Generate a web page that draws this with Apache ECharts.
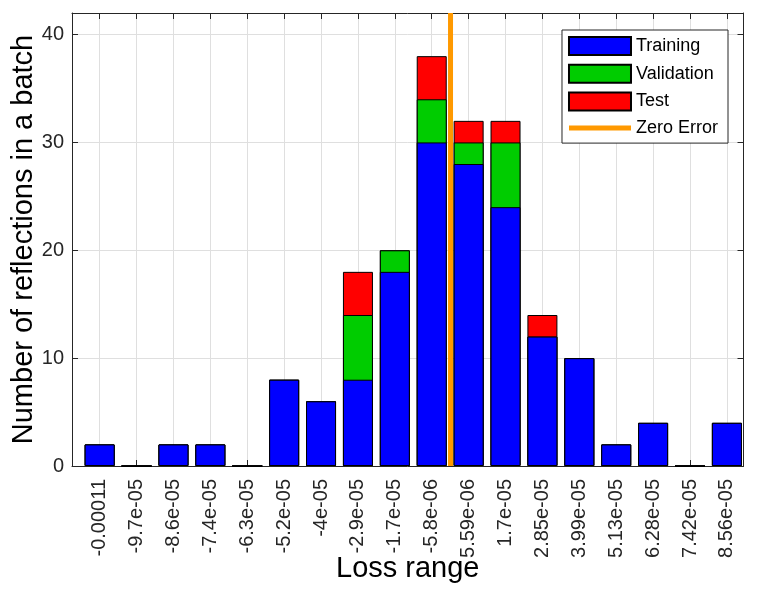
<!DOCTYPE html>
<html>
<head>
<meta charset="utf-8">
<script src="https://cdn.jsdelivr.net/npm/echarts@6/dist/echarts.min.js"></script>
<style>
  html, body { margin: 0; padding: 0; background: #fff; }
  #chart { width: 760px; height: 590px; }
</style>
</head>
<body>
<div id="chart"></div>
<script>
// bin labels as printed under the bars, and their numeric centers
const binLabels = ["-0.00011", "-9.7e-05", "-8.6e-05", "-7.4e-05", "-6.3e-05", "-5.2e-05",
  "-4e-05", "-2.9e-05", "-1.7e-05", "-5.8e-06", "5.59e-06", "1.7e-05", "2.85e-05",
  "3.99e-05", "5.13e-05", "6.28e-05", "7.42e-05", "8.56e-05"];
const binCenters = [-0.00011, -9.7e-05, -8.6e-05, -7.4e-05, -6.3e-05, -5.2e-05,
  -4e-05, -2.9e-05, -1.7e-05, -5.8e-06, 5.59e-06, 1.7e-05, 2.85e-05,
  3.99e-05, 5.13e-05, 6.28e-05, 7.42e-05, 8.56e-05];

const training   = [2, 0, 2, 2, 0, 8, 6, 8, 18, 30, 28, 24, 12, 10, 2, 4, 0, 4];
const validation = [0, 0, 0, 0, 0, 0, 0, 6, 2, 4, 2, 6, 0, 0, 0, 0, 0, 0];
const test       = [0, 0, 0, 0, 0, 0, 0, 4, 0, 4, 2, 2, 2, 0, 0, 0, 0, 0];

const yTicks = [0, 10, 20, 30, 40];

const idx = binLabels.map((_, i) => i);

// zero error position, interpolated between the two bins around 0
function zeroIndex() {
  for (let i = 0; i < binCenters.length - 1; i++) {
    const a = binCenters[i], b = binCenters[i + 1];
    if (a <= 0 && b >= 0) return i + (0 - a) / (b - a);
  }
  return 0;
}
const zx = zeroIndex();

// overlapping bars give the stacked look
const cumTV = training.map((v, i) => v + validation[i]);
const cumAll = cumTV.map((v, i) => v + test[i]);

const FONT = "'Liberation Sans', Arial, sans-serif";
const AX = "#262626";
const GRID = "#dfdfdf";

const chart = echarts.init(document.getElementById("chart"), null, { renderer: "canvas" });

function barSeries(name, vals, color, z) {
  return {
    name,
    type: "bar",
    xAxisIndex: 0,
    yAxisIndex: 0,
    barWidth: 30,
    barGap: "-100%",
    z,
    data: vals.map((v, i) => [i, v]),
    itemStyle: { color, borderColor: "#000", borderWidth: 1 },
    emphasis: { disabled: true },
  };
}

// x limits as in the original axes (a bit tighter on the right)
const xMin = -0.75, xMax = 17.45;

chart.setOption({
  animation: false,
  textStyle: { fontFamily: FONT },
  grid: { left: 72, top: 13, right: 16.5, bottom: 124, containLabel: false, outerBoundsMode: "none" },
  legend: {
    orient: "vertical",
    right: 32,
    top: 30,
    padding: [6, 10, 6, 6],
    itemWidth: 62,
    itemHeight: 18,
    itemGap: 7.7,
    backgroundColor: "#fff",
    borderColor: AX,
    borderWidth: 1,
    borderRadius: 0,
    selectedMode: false,
    symbolKeepAspect: true,
    textStyle: { fontFamily: FONT, fontSize: 18, lineHeight: 18, color: "#000" },
    data: [
      { name: "Training", icon: "rect" },
      { name: "Validation", icon: "rect" },
      { name: "Test", icon: "rect" },
      { name: "Zero Error", icon: "path://M0,0 L62,0 L62,5 L0,5 Z", itemStyle: { color: "#FF9900", borderWidth: 0 } },
    ],
  },
  xAxis: [
    {
      type: "value",
      position: "bottom",
      min: xMin,
      max: xMax,
      name: "Loss range",
      nameLocation: "middle",
      nameGap: 88,
      nameMoveOverlap: false,
      nameTextStyle: { fontFamily: FONT, fontSize: 29, color: "#000" },
      axisLine: { show: true, onZero: false, lineStyle: { color: AX, width: 1 } },
      axisTick: { show: true, inside: true, length: 6, customValues: idx, lineStyle: { color: AX } },
      axisLabel: {
        customValues: idx,
        rotate: 90,
        margin: 13,
        fontSize: 20,
        color: AX,
        fontFamily: FONT,
        formatter: v => binLabels[Math.round(v)] ?? "",
      },
      splitLine: { show: true, customValues: idx, lineStyle: { color: GRID, width: 1 } },
    },
    {
      type: "value",
      position: "top",
      min: xMin,
      max: xMax,
      axisLine: { show: true, onZero: false, lineStyle: { color: AX, width: 1 } },
      axisTick: { show: true, inside: true, length: 6, customValues: idx, lineStyle: { color: AX } },
      axisLabel: { show: false },
      splitLine: { show: false },
    },
  ],
  yAxis: [
    {
      type: "value",
      position: "left",
      min: 0,
      max: 42,
      interval: 10,
      name: "Number of reflections in a batch",
      nameLocation: "middle",
      nameGap: 34,
      nameMoveOverlap: false,
      nameTextStyle: { fontFamily: FONT, fontSize: 29, color: "#000" },
      axisLine: { show: true, onZero: false, lineStyle: { color: AX, width: 1 } },
      axisTick: { show: true, inside: true, length: 6, customValues: yTicks, lineStyle: { color: AX } },
      axisLabel: { customValues: yTicks, fontSize: 20, color: AX, margin: 8, fontFamily: FONT },
      splitLine: { show: true, lineStyle: { color: GRID, width: 1 } },
    },
    {
      type: "value",
      position: "right",
      min: 0,
      max: 42,
      interval: 10,
      axisLine: { show: true, onZero: false, lineStyle: { color: AX, width: 1 } },
      axisTick: { show: true, inside: true, length: 6, customValues: yTicks, lineStyle: { color: AX } },
      axisLabel: { show: false },
      splitLine: { show: false },
    },
  ],
  series: [
    barSeries("Training", training, "#0000FF", 4),
    barSeries("Validation", cumTV, "#00CC00", 3),
    barSeries("Test", cumAll, "#FF0000", 2),
    {
      name: "Zero Error",
      type: "line",
      xAxisIndex: 0,
      yAxisIndex: 0,
      z: 10,
      symbol: "none",
      data: [[zx, 0], [zx, 42]],
      lineStyle: { color: "#FF9900", width: 5 },
      itemStyle: { color: "#FF9900" },
      emphasis: { disabled: true },
    },
  ],
});
</script>
</body>
</html>
